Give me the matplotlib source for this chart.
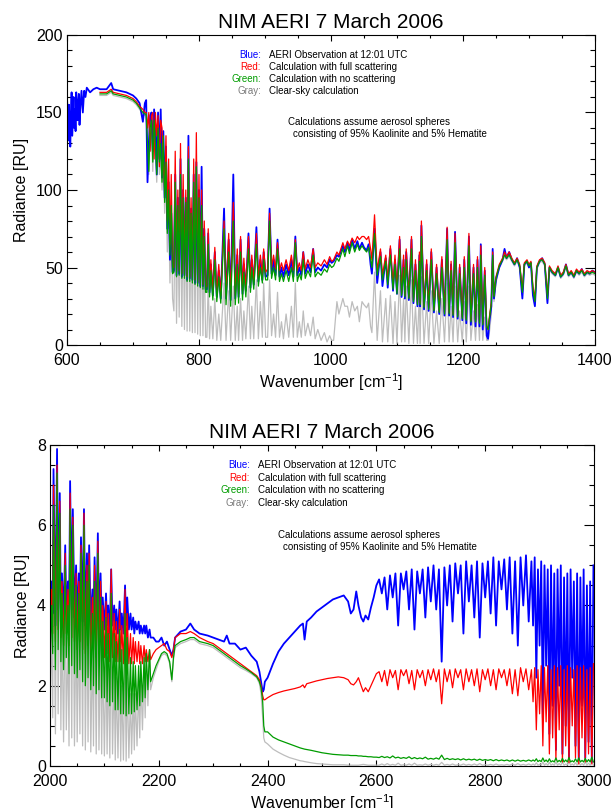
import numpy as np
import matplotlib
matplotlib.use('Agg')
import matplotlib.pyplot as plt
from matplotlib.ticker import MultipleLocator

plt.rcParams['font.family'] = ['Liberation Sans', 'DejaVu Sans']
plt.rcParams['mathtext.fontset'] = 'custom'
plt.rcParams['mathtext.rm'] = 'Liberation Sans'
plt.rcParams['mathtext.default'] = 'regular'

# ---------------- upper panel: 600-1400 cm-1 ----------------
# AERI observation covers the whole range, the calculations start at 650
top_wn = [
    600, 601, 602, 603, 604, 605, 606, 607, 608, 609, 610, 611, 612, 613, 614, 615, 616, 617, 618, 619,
    620, 622, 624, 626, 628, 630, 635, 640, 645,
    650, 660, 667, 670, 680, 690, 700, 705, 710, 715, 718,
    720, 722, 724, 726, 728, 730, 732, 734, 736, 738, 740, 742, 744, 746, 748, 750, 752, 754, 756, 758, 760,
    762, 764, 766, 768, 770, 772, 774, 776, 778, 780, 782, 784, 786, 788, 790, 792, 794, 796, 798, 800,
    802, 804, 806, 808, 810,
    812, 814, 816, 818, 821, 824, 827, 830, 833, 838, 841, 845, 848, 852, 855, 858, 860, 863, 866, 868,
    871, 875, 878, 880, 883, 887, 890, 893, 896, 898, 901,
    904, 907, 910, 913, 916, 919, 922, 925, 928, 932, 936, 940, 943, 946, 949, 952, 955, 958, 961, 965,
    969, 973, 976, 980, 985, 990, 994, 998, 1001,
    1004, 1009, 1012, 1018, 1021, 1025, 1028, 1032, 1036, 1040, 1043, 1047, 1050, 1054, 1057, 1060, 1062,
    1066, 1070, 1075, 1078, 1083, 1086, 1090, 1094, 1097, 1100,
    1104, 1107, 1110, 1112, 1114, 1118, 1122, 1125, 1128, 1131, 1134, 1135, 1137, 1141, 1145, 1148, 1152,
    1156, 1160, 1164, 1168, 1172, 1176, 1179, 1182, 1185, 1188, 1192, 1195, 1199, 1202, 1205, 1209, 1212,
    1216, 1219, 1222, 1225, 1227, 1230, 1233, 1236,
    1238, 1240, 1243, 1245, 1247, 1250, 1255, 1260, 1263, 1266, 1270, 1274, 1278, 1282, 1286, 1290, 1293,
    1297, 1300, 1303, 1306, 1309, 1312, 1316, 1320, 1324, 1328, 1331, 1335, 1340, 1344, 1348, 1352, 1356,
    1360, 1364, 1368, 1372, 1376, 1380, 1384, 1388, 1392, 1396, 1400,
]
top_blue = [
    160, 150, 132, 155, 140, 128, 150, 163, 135, 148, 160, 140, 152, 138, 163, 150, 145, 158, 162, 142,
    152, 164, 150, 164, 160, 166, 163, 165, 166,
    165, 165, 169, 165, 164, 163, 161, 159, 156, 144, 156,
    158, 105, 130, 148, 150, 125, 152, 140, 110, 150, 120, 152, 108, 138, 95, 128, 75, 105, 55, 85, 47,
    48, 110, 45, 95, 46, 120, 44, 100, 45, 95, 42, 135, 43, 88, 42, 110, 40, 118, 40, 100,
    38, 115, 38, 75, 36,
    36, 72, 34, 52, 32, 60, 31, 48, 30, 88, 30, 68, 29, 110, 30, 58, 31, 68, 33, 52,
    35, 72, 37, 55, 39, 76, 41, 55, 42, 60, 44,
    45, 88, 46, 55, 45, 68, 44, 50, 44, 52, 45, 55, 44, 70, 45, 50, 45, 60, 46, 52,
    47, 62, 47, 50, 48, 52, 50, 55, 53,
    54, 58, 57, 64, 60, 66, 61, 68, 62, 67, 62, 66, 63, 61, 65, 52, 46,
    75, 40, 60, 38, 56, 37, 62, 35, 55, 33,
    68, 31, 55, 30, 60, 29, 68, 27, 52, 25, 58, 25, 77, 23, 52, 22, 60,
    21, 50, 20, 55, 19, 75, 19, 52, 18, 73, 17, 50, 16, 55, 14, 70, 13,
    50, 12, 55, 12, 65, 10, 48, 6,
    4, 15, 25, 62, 30, 42, 50, 55, 62, 56, 60, 55, 52, 56, 50, 30, 52,
    54, 50, 53, 32, 25, 50, 54, 56, 52, 27, 50, 47, 45, 50, 44, 46, 52,
    45, 47, 44, 48, 46, 49, 45, 47, 46, 48, 47,
]
top_red = [
    163, 163, 165, 163, 162, 161, 159, 157, 154, 152, 150,
    150, 140, 150, 125, 148, 150, 120, 150, 135, 148, 115, 145, 140, 118, 100, 135, 80, 120, 65, 110, 50,
    50, 125, 47, 100, 48, 130, 46, 110, 46, 100, 44, 128, 44, 95, 43, 120, 42, 137, 41, 110,
    40, 100, 39, 80, 37,
    38, 75, 36, 55, 34, 63, 33, 52, 32, 80, 32, 72, 31, 92, 32, 62, 33, 70, 35, 56,
    37, 70, 39, 58, 41, 72, 43, 58, 45, 62, 47,
    49, 85, 50, 58, 49, 66, 48, 53, 48, 55, 48, 58, 48, 68, 48, 53, 48, 60, 49, 55,
    50, 62, 50, 53, 51, 55, 52, 57, 54,
    55, 60, 58, 66, 62, 67, 64, 69, 66, 70, 68, 70, 70, 68, 70, 62, 55,
    84, 48, 62, 45, 58, 42, 64, 39, 58, 36,
    70, 33, 58, 32, 62, 31, 70, 29, 55, 27, 60, 27, 80, 25, 55, 24, 62,
    23, 52, 22, 57, 21, 76, 21, 54, 20, 72, 19, 52, 18, 57, 17, 72, 16,
    52, 15, 57, 15, 64, 14, 50, 12,
    10, 18, 28, 60, 32, 44, 52, 56, 60, 57, 60, 56, 53, 56, 52, 36, 53,
    55, 52, 54, 38, 30, 51, 55, 56, 53, 32, 51, 48, 46, 51, 45, 47, 52,
    46, 48, 45, 49, 47, 49, 46, 48, 47, 48, 47,
]
top_green = [
    162, 162, 164, 162, 161, 160, 158, 156, 153, 150, 149,
    149, 130, 112, 140, 145, 118, 145, 130, 110, 140, 118, 130, 105, 135, 92, 118, 72, 100, 58, 90, 46,
    47, 105, 44, 90, 45, 110, 43, 95, 43, 92, 41, 120, 41, 85, 40, 105, 39, 115, 38, 95,
    37, 90, 36, 70, 34,
    34, 65, 31, 48, 29, 55, 28, 44, 27, 75, 26, 60, 25, 80, 26, 52, 27, 60, 29, 47,
    31, 62, 34, 50, 36, 65, 38, 50, 40, 55, 42,
    42, 80, 43, 50, 42, 62, 41, 46, 41, 48, 41, 50, 41, 66, 41, 46, 42, 55, 43, 48,
    44, 58, 44, 47, 45, 49, 47, 52, 50,
    51, 56, 54, 62, 57, 64, 59, 66, 60, 65, 61, 64, 62, 60, 63, 55, 50,
    72, 45, 57, 42, 54, 39, 58, 36, 52, 33,
    62, 32, 50, 31, 55, 30, 62, 28, 48, 26, 54, 26, 70, 24, 48, 23, 55,
    22, 46, 21, 50, 20, 68, 20, 48, 19, 66, 18, 46, 17, 50, 16, 64, 15,
    46, 15, 50, 14, 58, 13, 45, 12,
    10, 17, 27, 58, 31, 43, 51, 55, 58, 56, 58, 55, 52, 55, 51, 34, 52,
    54, 51, 53, 36, 28, 50, 54, 55, 52, 30, 50, 47, 45, 50, 44, 46, 51,
    45, 47, 44, 48, 46, 48, 45, 47, 46, 47, 46,
]
top_gray = [
    161, 161, 163, 161, 160, 159, 157, 155, 152, 149, 148,
    149, 125, 110, 135, 140, 112, 140, 125, 105, 135, 110, 122, 100, 125, 85, 108, 60, 88, 40, 75, 30,
    22, 95, 14, 85, 18, 100, 12, 88, 10, 85, 9, 112, 9, 78, 8, 98, 8, 108, 7, 88,
    6, 82, 6, 62, 5,
    5, 40, 4, 25, 4, 30, 3, 20, 3, 40, 3, 35, 3, 38, 3, 25, 3, 30, 3, 22,
    4, 38, 4, 25, 4, 42, 4, 28, 5, 40, 5,
    5, 42, 6, 20, 5, 34, 5, 15, 4, 20, 5, 25, 5, 40, 5, 15, 5, 22, 6, 14,
    6, 18, 4, 10, 3, 8, 2, 6, 3,
    3, 28, 20, 30, 25, 25, 18, 28, 22, 25, 15, 28, 26, 24, 27, 12, 8,
    47, 3, 35, 2, 30, 2, 32, 1, 28, 1,
    45, 2, 30, 2, 38, 1, 42, 1, 25, 1, 35, 1, 44, 1, 28, 1, 35,
    1, 22, 1, 30, 2, 40, 2, 25, 2, 38, 2, 22, 2, 28, 2, 38, 3,
    22, 3, 26, 3, 30, 3, 18, 3,
    3, 8, 20, 55, 28, 40, 50, 54, 57, 55, 57, 54, 51, 54, 50, 32, 51,
    53, 50, 52, 34, 26, 49, 53, 54, 51, 28, 49, 46, 44, 49, 43, 45, 50,
    44, 46, 43, 47, 45, 47, 44, 46, 45, 46, 45,
]

# ---------------- lower panel: 2000-3000 cm-1 ----------------
bot_wn = [
    2000, 2003, 2005, 2006.5, 2010, 2013, 2015, 2018, 2020, 2022,
    2025, 2028, 2030, 2033, 2035, 2037, 2040, 2042, 2045, 2048,
    2050, 2053, 2055, 2057, 2060, 2062.5, 2065, 2068, 2070, 2072,
    2075, 2078, 2080, 2082, 2085, 2088, 2090, 2093, 2095, 2097,
    2100, 2103, 2105, 2107, 2110, 2112.5, 2115, 2118, 2120, 2122,
    2125, 2128, 2130, 2132, 2135, 2138, 2140, 2142, 2145, 2148,
    2150, 2153, 2155, 2157, 2160, 2163, 2165, 2167, 2170, 2173,
    2175, 2177, 2180, 2183, 2185,
    2190, 2195, 2200, 2205, 2210, 2215, 2220, 2224, 2227, 2230,
    2240, 2250, 2258, 2265, 2275, 2290, 2300, 2310, 2320, 2325,
    2330, 2340, 2350, 2360, 2370, 2380, 2385, 2388, 2391, 2393, 2395,
    2400, 2410, 2420, 2430, 2440, 2450, 2460, 2465, 2468, 2472,
    2480, 2490, 2500, 2510, 2520, 2530, 2540, 2548, 2553, 2558,
    2563, 2567, 2572, 2576, 2580, 2585, 2590, 2595, 2600,
    2605, 2610, 2615, 2620, 2625, 2630, 2635, 2640, 2645, 2650,
    2655, 2660, 2665, 2670, 2675, 2680, 2685, 2690, 2695, 2700,
    2705, 2710, 2715, 2720, 2725, 2730, 2735, 2740, 2745, 2750,
    2755, 2760, 2765, 2770, 2775, 2780, 2785, 2790, 2795, 2800,
    2805, 2810, 2815, 2820, 2825, 2830, 2835, 2840, 2845, 2850,
    2855, 2860, 2865, 2870, 2875, 2880,
    2885, 2888, 2891, 2894, 2897, 2900, 2903, 2906, 2909, 2912,
    2915, 2918, 2921, 2924, 2927, 2930, 2933, 2936, 2939, 2942,
    2945, 2948, 2951, 2954, 2957, 2960, 2963, 2966, 2969, 2972,
    2975, 2978, 2981, 2984, 2987, 2990, 2993, 2996, 2999,
]
bot_blue = [
    3.6, 4.6, 3.8, 7.4, 3.5, 7.9, 3.9, 6.8, 3.6, 4.8, 3.7, 5.5, 3.8, 4.6, 3.5, 7.1, 3.9, 6.4, 3.7, 5.0,
    3.6, 4.8, 3.8, 5.7, 3.6, 6.4, 3.5, 5.3, 3.7, 5.5, 3.5, 4.4, 3.6, 5.2, 3.4, 5.8, 3.6, 4.8, 3.5, 4.2,
    3.4, 4.3, 3.5, 4.0, 3.3, 4.9, 3.5, 4.0, 3.4, 3.9, 3.3, 4.1, 3.4, 3.8, 3.3, 4.5, 3.5, 4.2, 3.4, 3.8,
    3.4, 3.7, 3.3, 3.6, 3.4, 3.6, 3.3, 3.5, 3.3, 3.5, 3.3, 3.5, 3.2, 3.4, 3.2,
    3.2, 3.1, 3.1, 3.2, 3.0, 3.1, 2.9, 2.75, 2.9, 3.2,
    3.35, 3.4, 3.55, 3.4, 3.3, 3.25, 3.2, 3.15, 3.1, 3.25,
    3.05, 3.05, 2.9, 2.95, 2.75, 2.6, 2.35, 2.1, 1.85, 1.9, 2.1,
    2.2, 2.55, 2.85, 3.05, 3.2, 3.35, 3.5, 3.55, 3.15, 3.6,
    3.7, 3.85, 3.95, 4.05, 4.15, 4.2, 4.25, 4.1, 3.8, 3.9,
    4.35, 4.0, 3.7, 3.6, 3.75, 3.65, 3.95, 4.2, 4.5,
    4.65, 4.3, 4.7, 3.9, 4.75, 4.2, 4.8, 3.5, 4.8, 4.4, 4.85, 3.9, 4.9, 3.4, 4.85, 4.3, 4.9, 3.7, 4.95, 4.1,
    5.0, 3.9, 4.9, 2.6, 4.95, 4.0, 5.0, 3.6, 5.05, 4.3, 5.0, 3.3, 5.1, 4.1, 5.0, 3.7, 5.1, 3.2, 5.05, 4.2,
    5.1, 3.8, 5.2, 3.5, 5.1, 4.4, 5.15, 3.9, 5.2, 3.3, 5.1, 3.0, 5.2, 4.0, 5.25, 3.6,
    5.1, 3.5, 5.2, 2.2, 4.9, 3.0, 5.1, 1.2, 5.0, 2.5, 4.9, 0.8, 5.0, 1.5, 4.8, 0.4, 4.9, 2.0, 5.0, 0.3,
    4.7, 1.0, 4.8, 0.2, 4.9, 2.2, 4.6, 0.5, 4.8, 0.15, 4.7, 1.5, 4.9, 0.2, 4.5, 0.6, 4.6, 0.1, 5.0,
]
bot_red = [
    3.0, 4.4, 3.3, 7.0, 3.1, 7.5, 3.4, 6.6, 3.2, 4.6, 3.0, 5.3, 3.3, 4.4, 3.0, 6.8, 3.2, 6.2, 3.1, 4.8,
    2.9, 4.6, 3.1, 5.5, 2.9, 6.3, 2.8, 5.0, 3.0, 5.3, 2.8, 4.2, 2.9, 5.0, 2.7, 5.6, 2.8, 4.6, 2.7, 4.0,
    2.7, 4.1, 2.8, 3.8, 2.6, 4.9, 2.7, 3.8, 2.6, 3.6, 2.6, 3.9, 2.6, 3.5, 2.55, 4.4, 2.6, 3.8, 2.55, 3.3,
    2.55, 3.2, 2.55, 3.1, 2.6, 3.1, 2.55, 3.0, 2.55, 3.0, 2.6, 2.9, 2.6, 2.9, 2.65,
    2.8, 2.9, 2.95, 3.0, 3.05, 2.9, 2.85, 2.7, 2.9, 3.2,
    3.3, 3.3, 3.35, 3.3, 3.2, 3.1, 3.05, 2.95, 2.85, 2.8,
    2.75, 2.65, 2.55, 2.45, 2.35, 2.25, 2.15, 2.0, 1.75, 1.65, 1.65,
    1.7, 1.78, 1.83, 1.87, 1.9, 1.93, 1.97, 2.02, 1.95, 2.05,
    2.08, 2.12, 2.15, 2.18, 2.2, 2.22, 2.2, 2.15, 2.05, 2.02,
    2.1, 2.2, 2.0, 1.85, 1.95, 1.85, 2.0, 2.15, 2.3,
    2.35, 2.1, 2.38, 2.0, 2.4, 2.2, 2.38, 1.9, 2.4, 2.25, 2.4, 2.05, 2.38, 1.9, 2.4, 2.2, 2.38, 2.0, 2.4, 2.15,
    2.42, 2.1, 2.4, 1.55, 2.42, 2.1, 2.4, 1.95, 2.42, 2.2, 2.4, 1.9, 2.42, 2.1, 2.4, 2.0, 2.42, 1.85, 2.4, 2.15,
    2.42, 2.0, 2.4, 1.9, 2.42, 2.2, 2.4, 2.0, 2.42, 1.8, 2.4, 1.75, 2.45, 2.1, 2.42, 1.9,
    2.4, 1.6, 2.45, 0.9, 2.4, 1.3, 2.5, 0.5, 2.45, 1.1, 2.5, 0.3, 2.4, 0.7, 2.5, 0.15, 2.45, 0.9, 2.5, 0.1,
    2.4, 0.5, 2.5, 0.08, 2.45, 1.0, 2.4, 0.2, 2.5, 0.05, 2.45, 0.7, 2.5, 0.1, 2.4, 0.3, 2.45, 0.05, 2.55,
]
bot_green = [
    2.5, 4.0, 2.8, 6.5, 2.4, 7.3, 2.9, 6.3, 2.6, 4.3, 2.4, 5.0, 2.7, 4.0, 2.3, 6.4, 2.5, 6.0, 2.3, 4.5,
    2.2, 4.3, 2.4, 5.3, 2.1, 6.0, 2.0, 4.6, 2.2, 5.0, 1.9, 3.8, 2.0, 4.6, 1.8, 5.3, 1.9, 4.2, 1.7, 3.6,
    1.7, 3.7, 1.6, 3.3, 1.5, 4.3, 1.6, 3.3, 1.4, 3.1, 1.4, 3.4, 1.3, 2.9, 1.3, 3.8, 1.25, 3.2, 1.3, 2.7,
    1.3, 2.6, 1.35, 2.5, 1.4, 2.5, 1.5, 2.6, 1.6, 2.7, 1.7, 2.8, 1.9, 2.9, 2.1,
    2.3, 2.5, 2.65, 2.8, 2.85, 2.8, 2.6, 2.15, 2.7, 3.0,
    3.1, 3.15, 3.2, 3.2, 3.1, 3.05, 3.0, 2.9, 2.8, 2.75,
    2.7, 2.6, 2.5, 2.42, 2.33, 2.22, 2.1, 1.95, 1.6, 1.0, 0.85,
    0.85, 0.72, 0.65, 0.6, 0.55, 0.5, 0.45, 0.43, 0.42, 0.41,
    0.39, 0.36, 0.33, 0.31, 0.29, 0.28, 0.27, 0.27, 0.26, 0.26,
    0.26, 0.25, 0.25, 0.24, 0.24, 0.23, 0.23, 0.22, 0.22,
    0.21, 0.24, 0.21, 0.23, 0.2, 0.25, 0.2, 0.22, 0.19, 0.21, 0.19, 0.23, 0.18, 0.21, 0.18, 0.2, 0.18, 0.22, 0.17, 0.19,
    0.17, 0.2, 0.17, 0.27, 0.16, 0.19, 0.16, 0.18, 0.16, 0.18, 0.15, 0.18, 0.15, 0.17, 0.15, 0.17, 0.14, 0.17, 0.14, 0.16,
    0.14, 0.16, 0.13, 0.16, 0.13, 0.15, 0.13, 0.15, 0.12, 0.15, 0.12, 0.15, 0.12, 0.14, 0.12, 0.15,
    0.12, 0.15, 0.12, 0.18, 0.11, 0.14, 0.11, 0.2, 0.11, 0.15, 0.1, 0.18, 0.1, 0.13, 0.1, 0.2, 0.1, 0.14, 0.1, 0.19,
    0.1, 0.15, 0.1, 0.21, 0.1, 0.13, 0.1, 0.18, 0.1, 0.2, 0.1, 0.14, 0.1, 0.19, 0.1, 0.16, 0.1, 0.22, 0.1,
]
bot_gray = [
    1.5, 3.5, 1.2, 6.0, 0.8, 6.8, 1.3, 5.8, 0.9, 3.6, 0.6, 4.5, 0.9, 3.2, 0.5, 5.8, 0.7, 5.4, 0.5, 3.8,
    0.6, 3.6, 0.8, 4.8, 0.5, 5.4, 0.4, 4.0, 0.6, 4.4, 0.35, 3.0, 0.5, 4.0, 0.3, 4.6, 0.4, 3.4, 0.3, 2.8,
    0.25, 2.8, 0.3, 2.6, 0.2, 3.4, 0.3, 2.4, 0.15, 2.2, 0.2, 2.6, 0.12, 2.0, 0.15, 2.8, 0.12, 2.2, 0.2, 1.8,
    0.3, 1.8, 0.4, 1.8, 0.5, 2.0, 0.7, 2.2, 0.9, 2.4, 1.2, 2.6, 1.5, 2.8, 1.9,
    2.2, 2.4, 2.6, 2.75, 2.8, 2.75, 2.55, 2.1, 2.65, 2.95,
    3.05, 3.1, 3.15, 3.15, 3.05, 3.0, 2.95, 2.85, 2.75, 2.7,
    2.65, 2.55, 2.45, 2.38, 2.3, 2.2, 2.05, 1.8, 1.2, 0.7, 0.6,
    0.55, 0.42, 0.34, 0.27, 0.21, 0.17, 0.13, 0.12, 0.11, 0.1,
    0.08, 0.06, 0.05, 0.04, 0.03, 0.03, 0.03, 0.02, 0.02, 0.02,
    0.02, 0.02, 0.03, 0.04, 0.03, 0.02, 0.02, 0.02, 0.02,
    0.02, 0.05, 0.02, 0.06, 0.02, 0.04, 0.02, 0.07, 0.02, 0.03, 0.02, 0.05, 0.02, 0.07, 0.02, 0.03, 0.02, 0.05, 0.02, 0.04,
    0.02, 0.04, 0.02, 0.09, 0.02, 0.04, 0.02, 0.05, 0.02, 0.03, 0.02, 0.05, 0.02, 0.04, 0.02, 0.05, 0.02, 0.06, 0.02, 0.03,
    0.02, 0.04, 0.02, 0.05, 0.02, 0.03, 0.02, 0.04, 0.02, 0.05, 0.02, 0.06, 0.02, 0.04, 0.02, 0.05,
    0.02, 0.05, 0.02, 0.08, 0.02, 0.04, 0.02, 0.1, 0.02, 0.06, 0.02, 0.09, 0.02, 0.05, 0.02, 0.1, 0.02, 0.06, 0.02, 0.09,
    0.02, 0.05, 0.02, 0.12, 0.02, 0.05, 0.02, 0.08, 0.02, 0.1, 0.02, 0.06, 0.02, 0.1, 0.02, 0.07, 0.02, 0.12, 0.02,
]

title = 'NIM AERI 7 March 2006'
legend_keys = ['Blue:', 'Red:', 'Green:', 'Gray:']
legend_texts = ['AERI Observation at 12:01 UTC', 'Calculation with full scattering',
                'Calculation with no scattering', 'Clear-sky calculation']
note_lines = ['Calculations assume aerosol spheres', 'consisting of 95% Kaolinite and 5% Hematite']

BLUE = '#0000ff'
RED = '#ff0000'
GREEN = '#009c00'
GRAY = '#bdbdbd'
key_colors = [BLUE, RED, GREEN, '#7a7a7a']


def draw_panel(ax, wn, blue, red, green, gray):
    wn = np.asarray(wn, dtype=float)
    calc_wn = wn[len(wn) - len(red):]
    ax.plot(calc_wn, gray, color=GRAY, lw=0.9)
    ax.plot(wn, blue, color=BLUE, lw=1.3)
    ax.plot(calc_wn, red, color=RED, lw=0.9)
    ax.plot(calc_wn, green, color=GREEN, lw=0.9)

    ax.set_title(title, fontsize=15, pad=5)
    ax.set_xlabel('Wavenumber [cm$^{-1}$]', fontsize=11.5, labelpad=2)
    ax.set_ylabel('Radiance [RU]', fontsize=11.5, labelpad=5)
    ax.tick_params(which='both', direction='in', top=True, right=True, labelsize=11.5, width=0.8)
    ax.tick_params(axis='x', which='major', length=4.5, pad=6)
    ax.tick_params(axis='x', which='minor', length=2.3)
    ax.tick_params(axis='y', which='major', length=7.5, pad=3)
    ax.tick_params(axis='y', which='minor', length=3.8)
    for s in ax.spines.values():
        s.set_linewidth(0.8)

    for i in range(4):
        y = 0.937 - i * 0.039
        ax.text(0.367, y, legend_keys[i], color=key_colors[i], fontsize=7, ha='right', va='center',
                transform=ax.transAxes)
        ax.text(0.383, y, legend_texts[i], color='black', fontsize=7, ha='left', va='center',
                transform=ax.transAxes)
    ax.text(0.419, 0.718, note_lines[0], fontsize=7, ha='left', va='center', transform=ax.transAxes)
    ax.text(0.429, 0.681, note_lines[1], fontsize=7, ha='left', va='center', transform=ax.transAxes)


fig = plt.figure(figsize=(6.14, 8.08), dpi=100)

ax1 = fig.add_axes([0.1091, 0.5730, 0.8599, 0.3837])
draw_panel(ax1, top_wn, top_blue, top_red, top_green, top_gray)
ax1.set_xlim(600, 1400)
ax1.set_ylim(0, 200)
ax1.xaxis.set_major_locator(MultipleLocator(200))
ax1.xaxis.set_minor_locator(MultipleLocator(50))
ax1.yaxis.set_major_locator(MultipleLocator(50))
ax1.yaxis.set_minor_locator(MultipleLocator(10))

ax2 = fig.add_axes([0.0814, 0.0520, 0.8860, 0.3973])
draw_panel(ax2, bot_wn, bot_blue, bot_red, bot_green, bot_gray)
ax2.set_xlim(2000, 3000)
ax2.set_ylim(0, 8)
ax2.xaxis.set_major_locator(MultipleLocator(200))
ax2.xaxis.set_minor_locator(MultipleLocator(50))
ax2.yaxis.set_major_locator(MultipleLocator(2))
ax2.yaxis.set_minor_locator(MultipleLocator(0.5))

fig.savefig('out.png', dpi=100)
